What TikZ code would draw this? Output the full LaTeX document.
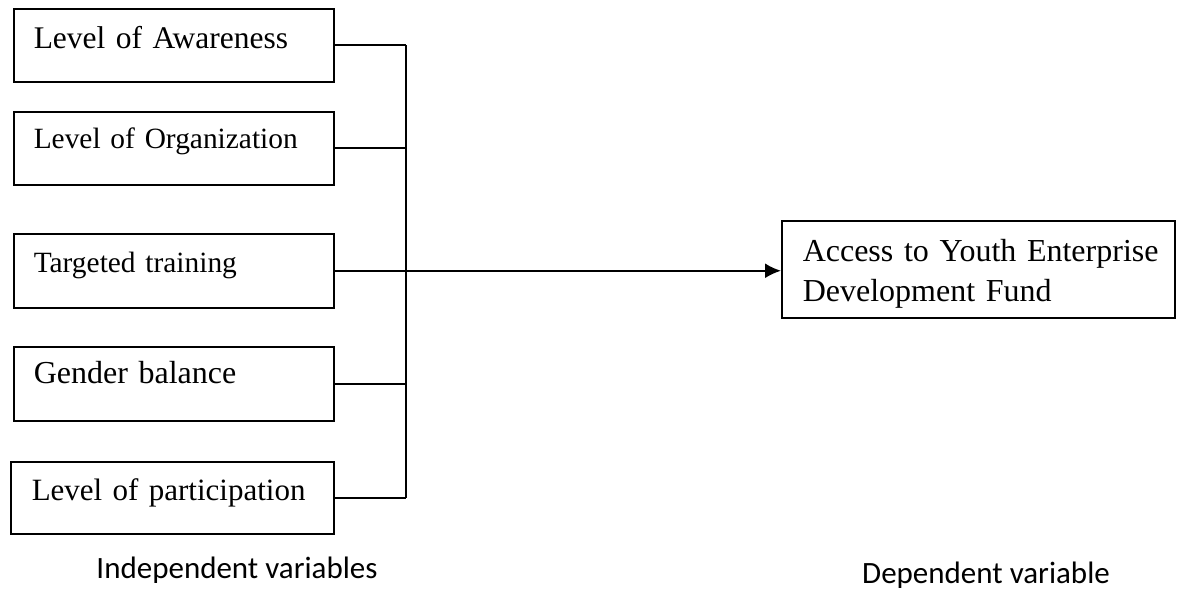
\documentclass[tikz,border=0pt]{standalone}
\usepackage{fontspec}
\setmainfont{Liberation Serif}
\newfontfamily\calibri{Carlito}
\usetikzlibrary{arrows.meta}

\begin{document}
\begin{tikzpicture}[
        x=1pt, y=-1pt,
        varbox/.style={rectangle, draw, line width=1.5pt, inner xsep=0pt, inner ysep=0pt,
            text width=320pt, align=left, anchor=north west,
            execute at begin node={\leftskip=20pt\relax}},
        link/.style={line width=2pt},
        arrow/.style={-{Latex[length=16pt,width=15pt]}, line width=2pt},
        caption/.style={font=\calibri\fontsize{31}{36}\selectfont, anchor=base}
    ]
        \useasboundingbox (0,0) rectangle (1181,603);

        % Independent variables
        \node[varbox, text height=40pt, text depth=33pt, font=\fontsize{31.5}{40}\selectfont] (aware) at (13,8) {Level of Awareness};
        \node[varbox, text height=37pt, text depth=36pt, font=\fontsize{29.4}{36}\selectfont] (organ) at (13,111) {Level of Organization};
        \node[varbox, text height=39pt, text depth=35pt, font=\fontsize{29.4}{36}\selectfont] (train) at (13,233) {Targeted training};
        \node[varbox, text height=37pt, text depth=37pt, font=\fontsize{32}{40}\selectfont] (gender) at (13,346) {Gender balance};
        \node[varbox, text width=323pt, text height=39pt, text depth=33pt, font=\fontsize{31}{40}\selectfont,
            execute at begin node={\leftskip=21pt\relax}] (partic) at (10,461) {Level of participation};

        % Dependent variable
        \node[varbox, text width=393pt, text height=41pt, text depth=56pt, font=\fontsize{32}{40}\selectfont,
            execute at begin node={\leftskip=21pt\relax}]
            (fund) at (781,220) {Access to Youth Enterprise\\Development Fund};

        % Joining line
        \coordinate (bus) at (406,0);
        \draw[link] (aware.east) -- (aware.east -| bus);
        \draw[link] (organ.east) -- (organ.east -| bus);
        \draw[link] (train.east) -- (train.east -| bus);
        \draw[link] (gender.east) -- (gender.east -| bus);
        \draw[link] (partic.east) -- (partic.east -| bus);
        \draw[link] (aware.east -| bus) -- (partic.east -| bus);

        % Arrow
        \draw[arrow] (train.east -| bus) -- (train.east -| fund.west);

        % Labels
        \node[caption] (indep) at (237,578) {Independent variables};
        \node[caption] (dep) at (986,583) {Dependent variable};
    \end{tikzpicture}
\end{document}
